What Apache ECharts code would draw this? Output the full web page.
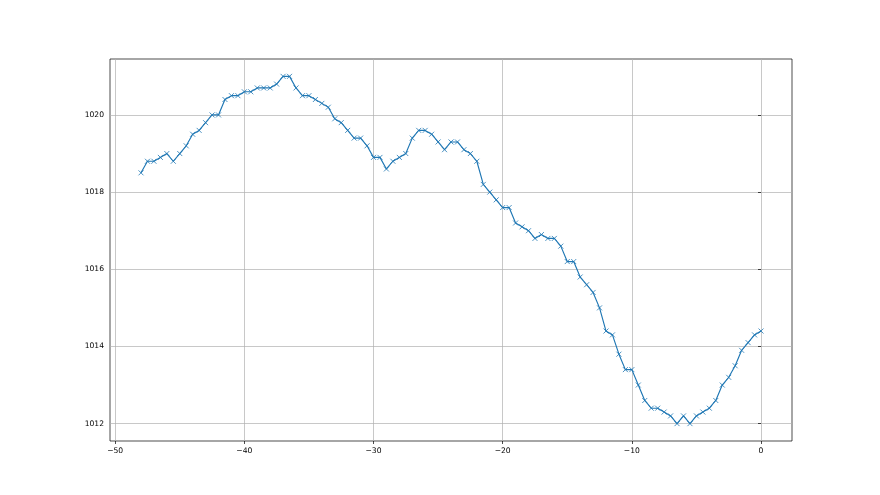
<!DOCTYPE html>
<html>
<head>
<meta charset="utf-8">
<script src="https://cdn.jsdelivr.net/npm/echarts@6/dist/echarts.min.js"></script>
<style>html,body{margin:0;padding:0;background:#fff}#c{width:880px;height:495px}</style>
</head>
<body>
<div id="c"></div>
<script>
const hours = [];
for (let i = 0; i <= 96; i++) hours.push(-48 + i * 0.5);
const pressure = [
  1018.5, 1018.8, 1018.8, 1018.9, 1019.0, 1018.8, 1019.0, 1019.2, 1019.5, 1019.6,
  1019.8, 1020.0, 1020.0, 1020.4, 1020.5, 1020.5, 1020.6, 1020.6, 1020.7, 1020.7,
  1020.7, 1020.8, 1021.0, 1021.0, 1020.7, 1020.5, 1020.5, 1020.4, 1020.3, 1020.2,
  1019.9, 1019.8, 1019.6, 1019.4, 1019.4, 1019.2, 1018.9, 1018.9, 1018.6, 1018.8,
  1018.9, 1019.0, 1019.4, 1019.6, 1019.6, 1019.5, 1019.3, 1019.1, 1019.3, 1019.3,
  1019.1, 1019.0, 1018.8, 1018.2, 1018.0, 1017.8, 1017.6, 1017.6, 1017.2, 1017.1,
  1017.0, 1016.8, 1016.9, 1016.8, 1016.8, 1016.6, 1016.2, 1016.2, 1015.8, 1015.6,
  1015.4, 1015.0, 1014.4, 1014.3, 1013.8, 1013.4, 1013.4, 1013.0, 1012.6, 1012.4,
  1012.4, 1012.3, 1012.2, 1012.0, 1012.2, 1012.0, 1012.2, 1012.3, 1012.4, 1012.6,
  1013.0, 1013.2, 1013.5, 1013.9, 1014.1, 1014.3, 1014.4
];
const xTicks = [-50, -40, -30, -20, -10, 0];
const yTicks = [1012, 1014, 1016, 1018, 1020];

const data = hours.map((h, i) => [h, pressure[i]]);
const font = {fontFamily: 'DejaVu Sans', fontSize: 7.6, color: '#000'};
const chart = echarts.init(document.getElementById('c'), null, {renderer: 'canvas'});
chart.setOption({
  animation: false,
  backgroundColor: '#fff',
  grid: {left: 110, right: 88, top: 59, bottom: 54, show: true, borderColor: '#000', borderWidth: 0.7, backgroundColor: 'transparent'},
  xAxis: {
    type: 'value', min: -50.4, max: 2.4,
    axisLine: {show: false},
    axisTick: {show: true, length: 3, lineStyle: {color: '#000', width: 0.7}, customValues: xTicks},
    axisLabel: Object.assign({margin: 6, customValues: xTicks, formatter: v => (v < 0 ? '\u2212' + Math.abs(v) : String(v))}, font),
    splitLine: {show: true, lineStyle: {color: '#b0b0b0', width: 0.7}}
  },
  yAxis: {
    type: 'value', min: 1011.55, max: 1021.45,
    axisLine: {show: false},
    axisTick: {show: true, length: 3, lineStyle: {color: '#000', width: 0.7}, customValues: yTicks},
    axisLabel: Object.assign({margin: 6, customValues: yTicks, formatter: v => String(v)}, font),
    splitLine: {show: true, lineStyle: {color: '#b0b0b0', width: 0.7}}
  },
  series: [{
    type: 'line',
    data: data,
    symbol: 'path://M0,0L10,10M10,0L0,10',
    symbolSize: 5,
    showAllSymbol: true,
    lineStyle: {color: '#1f77b4', width: 1.15},
    itemStyle: {color: 'transparent', borderColor: '#1f77b4', borderWidth: 0.8},
    z: 3
  }]
});
</script>
</body>
</html>
